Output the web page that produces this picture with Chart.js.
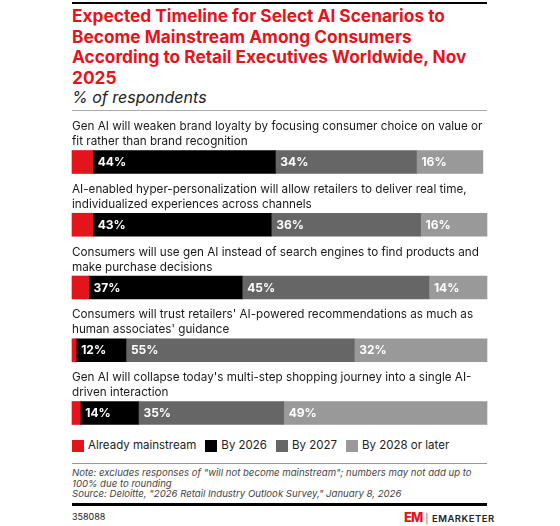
<!DOCTYPE html>
<html>
<head>
<meta charset="utf-8">
<script src="https://cdn.jsdelivr.net/npm/chart.js@4.4.1/dist/chart.umd.min.js"></script>
<style>
  body { margin: 0; width: 560px; height: 526px; background: #fff; font-family: Inter, "Noto Sans", sans-serif; position: relative; overflow: hidden; }
  .rule { position: absolute; left: 72px; width: 415px; }
  #title { position: absolute; left: 72px; top: 6px; width: 420px; color: #e4141c; font-weight: 700; font-size: 17.3px; line-height: 20.5px; }
  #subtitle { position: absolute; left: 72px; top: 87px; font-style: italic; font-size: 16px; color: #222; }
  #chartBox { position: absolute; left: 0; top: 112px; width: 560px; height: 320px; }
  #legend { position: absolute; left: 72px; top: 438px; display: flex; font-size: 11.5px; line-height: 15px; color: #222; }
  #legend span { display: flex; align-items: center; margin-right: 9px; }
  #legend i { display: inline-block; width: 12px; height: 12px; margin-right: 4px; }
  #note { position: absolute; left: 72px; top: 468px; font-style: italic; font-size: 9.6px; line-height: 10.6px; color: #444; }
  #id { position: absolute; left: 72px; top: 511px; font-size: 9px; color: #222; }
  #logo { position: absolute; left: 404px; top: 509px; font-size: 9.5px; font-weight: 600; letter-spacing: 0.5px; color: #222; }
  #logo b { color: #e4141c; font-size: 13px; font-weight: 800; letter-spacing: -1px; }
  #logo em { font-style: normal; color: #666; font-weight: 400; margin: 0 3px; }
</style>
</head>
<body>
<div class="rule" style="top:2px;height:2px;background:#000"></div>
<div id="title">Expected Timeline for Select AI Scenarios to Become Mainstream Among Consumers According to Retail Executives Worldwide, Nov 2025</div>
<div id="subtitle">% of respondents</div>
<div class="rule" style="top:110px;height:1px;background:#aaa"></div>
<div id="chartBox"><canvas id="chart"></canvas></div>
<div id="legend"></div>
<div class="rule" style="top:463px;height:1px;background:#999"></div>
<div id="note">Note: excludes responses of "will not become mainstream"; numbers may not add up to<br>100% due to rounding<br>Source: Deloitte, "2026 Retail Industry Outlook Survey," January 8, 2026</div>
<div class="rule" style="top:503px;height:3px;background:#000"></div>
<div id="id">358088</div>
<div id="logo"><b>EM</b><em>|</em>EMARKETER</div>
<script>
const categories = [
  ['Gen AI will weaken brand loyalty by focusing consumer choice on value or', 'fit rather than brand recognition'],
  ['AI-enabled hyper-personalization will allow retailers to deliver real time,', 'individualized experiences across channels'],
  ['Consumers will use gen AI instead of search engines to find products and', 'make purchase decisions'],
  ["Consumers will trust retailers' AI-powered recommendations as much as", "human associates' guidance"],
  ["Gen AI will collapse today's multi-step shopping journey into a single AI-", 'driven interaction']
];
const seriesNames = ['Already mainstream', 'By 2026', 'By 2027', 'By 2028 or later'];
const alreadyMainstream = [5, 5, 4, 1, 2];
const by2026 = [44, 43, 37, 12, 14];
const by2027 = [34, 36, 45, 55, 35];
const by2028 = [16, 16, 14, 32, 49];
const colors = ['#e4141c', '#000000', '#666666', '#999999'];

const seriesData = [alreadyMainstream, by2026, by2027, by2028];

// category text above each bar
const rowLabels = {
  id: 'rowLabels',
  afterDatasetsDraw(chart) {
    const { ctx, scales } = chart;
    const left = chart.chartArea.left;
    ctx.save();
    ctx.fillStyle = '#1a1a1a';
    ctx.font = '11.7px Inter';
    ctx.textBaseline = 'middle';
    categories.forEach((lines, i) => {
      const top = scales.y.getPixelForValue(i) - 11.5;
      lines.forEach((line, j) => {
        ctx.fillText(line, left, top - 9 - (lines.length - 1 - j) * 15);
      });
    });
    ctx.restore();
  }
};

// white % labels inside segments (red one is too narrow)
const valueLabels = {
  id: 'valueLabels',
  afterDatasetsDraw(chart) {
    const { ctx } = chart;
    ctx.save();
    ctx.fillStyle = '#fff';
    ctx.font = 'bold 12px Inter';
    ctx.textBaseline = 'middle';
    chart.data.datasets.forEach((ds, di) => {
      if (di === 0) return;
      chart.getDatasetMeta(di).data.forEach((bar, i) => {
        const x0 = Math.min(bar.base, bar.x);
        ctx.fillText(ds.data[i] + '%', x0 + 5, bar.y + 0.5);
      });
    });
    ctx.restore();
  }
};

new Chart(document.getElementById('chart'), {
  type: 'bar',
  data: {
    labels: categories.map((c) => c.join(' ')),
    datasets: seriesNames.map((name, i) => ({
      label: name,
      data: seriesData[i],
      backgroundColor: colors[i],
      borderWidth: 0,
      barThickness: 23,
      clip: false
    }))
  },
  options: {
    indexAxis: 'y',
    responsive: true,
    maintainAspectRatio: false,
    animation: false,
    layout: { padding: { top: 50, left: 72, right: 73, bottom: 19 } },
    scales: {
      x: { stacked: true, min: 0, max: 100, display: false },
      y: { stacked: true, display: false, offset: false }
    },
    plugins: {
      legend: { display: false },
      tooltip: { enabled: false }
    }
  },
  plugins: [rowLabels, valueLabels]
});

const legendEl = document.getElementById('legend');
seriesNames.forEach((name, i) => {
  const item = document.createElement('span');
  item.innerHTML = `<i style="background:${colors[i]}"></i>${name}`;
  legendEl.appendChild(item);
});
</script>
</body>
</html>
